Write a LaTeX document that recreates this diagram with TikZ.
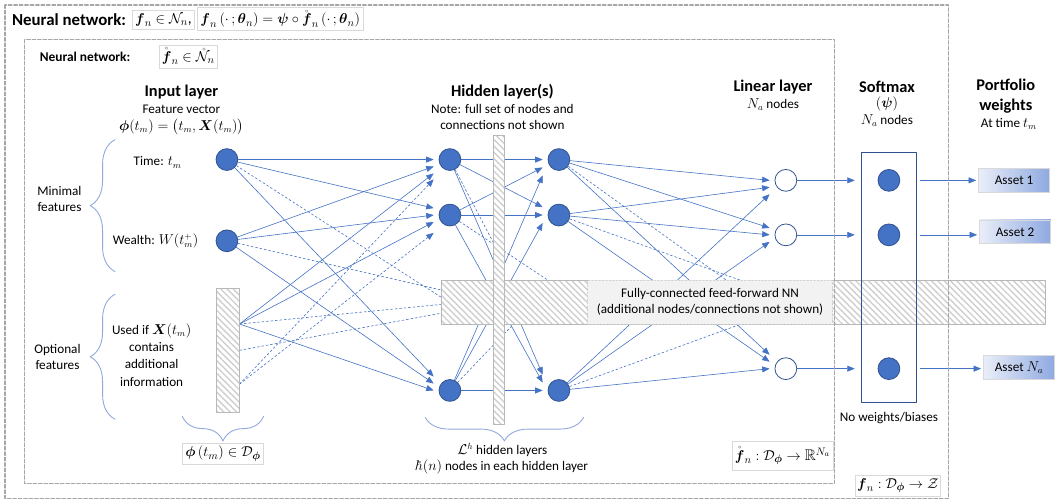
\documentclass[tikz,border=0pt]{standalone}
\usepackage{amsmath,amssymb}
\usepackage{fontspec}
\setmainfont{Carlito}
\usetikzlibrary{arrows.meta, calc, patterns.meta, decorations.pathreplacing}
\definecolor{linkblue}{HTML}{4472C4}
\definecolor{unitblue}{HTML}{4472C4}
\definecolor{unitedge}{HTML}{2F528F}
\definecolor{bracecol}{HTML}{8FAADC}
\definecolor{framegray}{HTML}{A6A6A6}
\definecolor{hatchgray}{HTML}{CFCFCF}
\definecolor{boxgray}{HTML}{D9D9D9}
\definecolor{notegray}{HTML}{F2F2F2}
\definecolor{assetlight}{HTML}{EAEEF9}
\definecolor{assetdark}{HTML}{8EA9E0}
\pgfdeclarelayer{canvas}
\pgfdeclarelayer{links}
\pgfsetlayers{canvas,links,main}

\begin{document}
\begin{tikzpicture}[
    x=1pt, y=-1pt,
    >={Triangle[length=7.5pt,width=6pt]},
    line cap=round,
    line join=round,
    txt/.style={font=\fontsize{13.3}{16}\selectfont, align=center, inner sep=0pt},
    head/.style={font=\fontsize{16.5}{19}\selectfont\bfseries, align=center, inner sep=0pt},
    title/.style={font=\fontsize{17}{20}\selectfont\bfseries, inner sep=0pt},
    subtitle/.style={font=\fontsize{13.5}{16}\selectfont\bfseries, inner sep=0pt},
    unit/.style={circle, draw=unitedge, fill=unitblue, line width=0.8pt, minimum size=22pt, inner sep=0pt},
    linunit/.style={unit, fill=white},
    link/.style={linkblue, line width=0.6pt},
    dashlink/.style={link, dash pattern=on 2.5pt off 2pt},
    hatched/.style={draw=framegray!80, line width=0.6pt, preaction={fill=white},
        pattern={Lines[angle=-45, distance=4.5pt, line width=1.4pt]}, pattern color=hatchgray},
    frame/.style={draw=framegray, line width=1.3pt, dash pattern=on 3.5pt off 2pt},
    mathbox/.style={draw=boxgray, line width=0.6pt, fill=white, inner sep=3pt,
        font=\fontsize{15.5}{18}\selectfont},
    curly/.style={draw=bracecol, line width=0.9pt, decorate,
        decoration={brace, amplitude=#1}},
    asset/.style={draw=boxgray, line width=0.6pt, left color=assetlight, right color=assetdark,
        minimum width=72pt, minimum height=24pt, anchor=west, font=\fontsize{13.3}{16}\selectfont}
]

% canvas
\begin{pgfonlayer}{canvas}
    \path[use as bounding box, fill=white] (0,0) rectangle (1055,508);
\end{pgfonlayer}

% titles and function boxes
\node[title, anchor=west] (outertitle) at (12,20) {Neural network:};
\node[mathbox, anchor=west] (fnset) at (133,20) {$\boldsymbol{f}_n \in \mathcal{N}_n$,};
\node[mathbox, anchor=west] (fnmap) at (199,19)
    {$\boldsymbol{f}_n\left(\cdot\,;\boldsymbol{\theta}_n\right) = \boldsymbol{\psi}\circ\mathring{\boldsymbol{f}}_n\left(\cdot\,;\boldsymbol{\theta}_n\right)$};
\node[subtitle, anchor=west] (innertitle) at (40,57) {Neural network:};
\node[mathbox, anchor=west] (fringset) at (160,57) {$\mathring{\boldsymbol{f}}_n \in \mathring{\mathcal{N}}_n$};

% layer headings
\node[head] (inhead) at (183,93) {Input layer};
\node[txt] (insub) at (183,110) {Feature vector};
\node[txt] (inphi) at (183,128) {$\boldsymbol{\phi}(t_m) = \bigl(t_m, \boldsymbol{X}(t_m)\bigr)$};
\node[head] (hidhead) at (507,93) {Hidden layer(s)};
\node[txt, font=\fontsize{13.3}{15.5}\selectfont] (hidsub) at (507,118) {Note: full set of nodes and\\connections not shown};
\node[head] (linhead) at (780,88) {Linear layer};
\node[txt] (linsub) at (780,106) {$N_a$ nodes};
\node[head] (softhead) at (895,88) {Softmax};
\node[txt] (softpsi) at (895,105) {$(\boldsymbol{\psi})$};
\node[txt] (softsub) at (895,122) {$N_a$ nodes};
\node[head, font=\fontsize{16.5}{20}\selectfont\bfseries] (pwhead) at (1015,97) {Portfolio\\weights};
\node[txt] (pwsub) at (1018,125) {At time $t_m$};

% input features
\node[txt] (minlab) at (60,201) {Minimal\\features};
\node[txt] (timelab) at (159,164) {Time: $t_m$};
\node[txt] (wealthlab) at (157,243) {Wealth: $W(t_m^{+})$};
\node[txt] (optlab) at (58,360) {Optional\\features};
\node[txt, font=\fontsize{13.3}{17.5}\selectfont] (extralab) at (153,358) {Used if $\boldsymbol{X}(t_m)$\\contains\\additional\\information};
\draw[curly=25pt] (116,274) -- (116,141);
\draw[curly=25pt] (116,423) -- (116,297);

\node[unit] (in1) at (229,161) {};
\node[unit] (in2) at (229,243) {};
\node[hatched, minimum width=23pt, minimum height=125pt] (inbar) at (229.5,353.5) {};
\coordinate (ip1) at ($(inbar.north east)!0.29!(inbar.south east)$);
\coordinate (ip2) at ($(inbar.north east)!0.5!(inbar.south east)$);
\coordinate (ip3) at ($(inbar.north east)!0.77!(inbar.south east)$);

\draw[curly=25pt] (266,420) -- (184,420);
\node[mathbox] (phibox) at (225,458) {$\boldsymbol{\phi}\left(t_m\right) \in \mathcal{D}_{\boldsymbol{\phi}}$};

% hidden layers
\foreach \y [count=\k] in {161,217,394} {
    \node[unit] (h1\k) at (454,\y) {};
    \node[unit] (h2\k) at (564,\y) {};
}
\node[hatched, minimum width=610pt, minimum height=44pt] (hbar) at (750,305) {};
\node[hatched, minimum width=11pt, minimum height=291pt] (vbar) at (503.5,282.5) {};
\node[txt, draw=framegray!50, dash pattern=on 2pt off 1.5pt, fill=notegray,
      minimum width=247pt, minimum height=44pt] (fcnote) at (716.5,305)
    {Fully-connected feed-forward NN\\(additional nodes/connections not shown)};

\draw[curly=24pt] (589,421) -- (429,421);
\node[txt, font=\fontsize{13.3}{16.5}\selectfont] (hidcount) at (507,463) {$\mathcal{L}^h$ hidden layers\\$\hbar(n)$ nodes in each hidden layer};

% linear layer, softmax and outputs
\foreach \y [count=\k] in {182,237,372} {
    \node[linunit] (l\k) at (793,\y) {};
    \node[unit] (s\k) at (897,\y) {};
}
\node[draw=unitedge, line width=1pt, minimum width=56pt, minimum height=252pt] (soft) at (897,280) {};
\node[txt] (softnote) at (897,422) {No weights/biases};

\node[asset] (a1) at (987,182) {Asset 1};
\node[asset] (a2) at (988,234) {Asset 2};
\node[asset] (a3) at (992,371) {Asset $N_a$};

% network frames
\draw[frame] (5,5) rectangle (957,503);
\draw[frame] (25,40) rectangle (842,488);
\node[mathbox, minimum height=30pt, anchor=east] (ringmap) at (841,460)
    {$\mathring{\boldsymbol{f}}_n : \mathcal{D}_{\boldsymbol{\phi}} \to \mathbb{R}^{N_a}$};
\node[mathbox, minimum height=21pt, inner sep=2pt] (fmap) at (906,490)
    {$\boldsymbol{f}_n : \mathcal{D}_{\boldsymbol{\phi}} \to \mathcal{Z}$};

% connections (behind the bars)
\begin{pgfonlayer}{links}
    \foreach \s [count=\i] in {in1,in2,ip1}
        \foreach \t [count=\j] in {h11,h12,h13}
            \draw[link,->] (\s) -- ([xshift=-5pt, yshift={-(\i-\j)*7pt}]\t.west);
    \draw[dashlink,->] (ip3) -- ([xshift=-5pt, yshift=-20pt]h11.west);
    \draw[dashlink,->] (ip3) -- ([xshift=-5pt, yshift=-18pt]h12.west);
    \foreach \s/\f in {in1/0.38, in2/0.22, ip1/0.55, ip2/0.75}
        \draw[dashlink] (\s) -- ($(hbar.north west)!\f!(hbar.south west)$);

    \foreach \s [count=\i] in {h11,h12,h13}
        \foreach \t [count=\j] in {h21,h22,h23}
            \draw[link,->] (\s) -- ([xshift=-5pt, yshift={-(\i-\j)*8pt}]\t.west);
    \draw[dashlink] (h11) -- ($(vbar.north west)!0.37!(vbar.south west)$);
    \draw[dashlink] (h12) -- ($(hbar.north west)!0.177!(hbar.north east)$);
    \draw[dashlink] (h13) -- ($(hbar.south west)!0.12!(hbar.south east)$);

    \foreach \s [count=\i] in {h21,h22,h23}
        \foreach \t [count=\j] in {l1,l2,l3}
            \draw[link,->] (\s) -- ([xshift=-5pt, yshift={-(\i-\j)*7pt}]\t.west);
    \draw[dashlink] (h21) -- ($(hbar.north west)!0.472!(hbar.north east)$);
    \draw[dashlink] (h22) -- ($(hbar.north west)!0.495!(hbar.north east)$);
    \draw[dashlink] (h23) -- ($(hbar.south west)!0.495!(hbar.south east)$);

    \foreach \k in {1,2,3} {
        \draw[link,->, shorten >=6pt] (l\k) -- (l\k -| soft.west);
        \draw[link,->, shorten <=3pt, shorten >=2pt] (s\k -| soft.east) -- (s\k -| a\k.west);
    }
\end{pgfonlayer}

\end{tikzpicture}
\end{document}
